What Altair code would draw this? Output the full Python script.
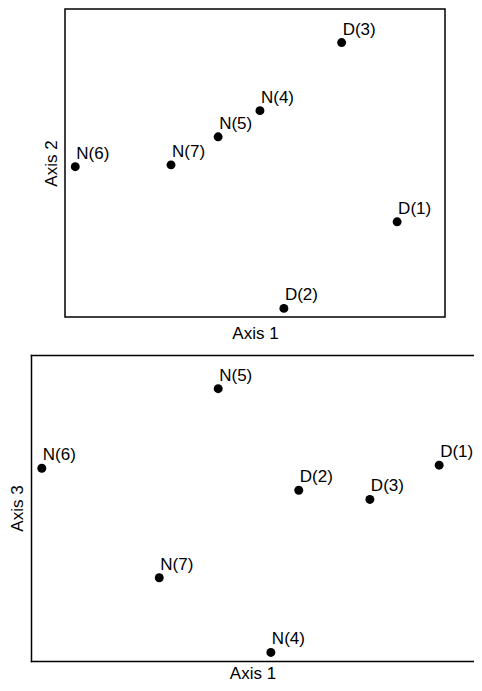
import altair as alt
import pandas as pd

# Top panel: Axis 1 vs Axis 2
top_labels = ["D(3)", "N(4)", "N(5)", "N(6)", "N(7)", "D(1)", "D(2)"]
top_axis1 = [72.8, 51.3, 40.3, 2.7, 27.9, 87.4, 57.6]
top_axis2 = [89.1, 67.0, 58.5, 48.8, 49.4, 30.9, 2.8]

# Bottom panel: Axis 1 vs Axis 3 (right part of the frame is cut off in the source)
bot_labels = ["N(5)", "N(6)", "D(1)", "D(2)", "D(3)", "N(7)", "N(4)"]
bot_axis1 = [41.6, 2.4, 90.7, 59.5, 75.3, 28.5, 53.3]
bot_axis3 = [89.0, 63.0, 64.0, 55.8, 52.8, 27.2, 2.8]

FONT = "Liberation Sans"
FS = 17
LW = 1.5

top_df = pd.DataFrame({"label": top_labels, "a1": top_axis1, "a2": top_axis2})
bot_df = pd.DataFrame({"label": bot_labels, "a1": bot_axis1, "a3": bot_axis3})


def axis(title, pad, domain=False, orient=None):
    kw = dict(labels=False, ticks=False, grid=False, domain=domain,
              domainColor="black", domainWidth=LW, domainCap="square",
              titleFont=FONT, titleFontSize=FS, titleFontWeight="normal",
              titleColor="black", titlePadding=pad, title=title)
    if orient:
        kw["orient"] = orient
    return alt.Axis(**kw)


# ---- top panel (closed frame) ----
tbase = alt.Chart(top_df).encode(
    x=alt.X("a1:Q", scale=alt.Scale(domain=[0, 100], nice=False, zero=False), axis=axis("Axis 1", 8)),
    y=alt.Y("a2:Q", scale=alt.Scale(domain=[0, 100], nice=False, zero=False), axis=axis("Axis 2", 5)),
)
top = (
    tbase.mark_circle(size=80, color="black", opacity=1)
    + tbase.mark_text(align="left", baseline="alphabetic", dx=1, dy=-8,
                      font=FONT, fontSize=FS, color="black").encode(text="label:N")
).properties(width=380, height=308, view=alt.ViewBackground(stroke="black", strokeWidth=LW))

# ---- bottom panel (frame runs off the right edge of the page) ----
xs = alt.Scale(domain=[0, 98.44], nice=False, zero=False)
ys = alt.Scale(domain=[0, 100], nice=False, zero=False)
yax = axis("Axis 3", 5, domain=True)
bpts = alt.Chart(bot_df).mark_circle(size=80, color="black", opacity=1).encode(
    x=alt.X("a1:Q", scale=xs, axis=axis("Axis 1", 4, domain=True)),
    y=alt.Y("a3:Q", scale=ys, axis=yax),
)
btxt = alt.Chart(bot_df).mark_text(align="left", baseline="alphabetic", dx=1, dy=-8,
                                   font=FONT, fontSize=FS, color="black").encode(
    x=alt.X("a1:Q", scale=xs, axis=axis("", 0, domain=True, orient="top")),
    y=alt.Y("a3:Q", scale=ys, axis=yax),
    text="label:N",
)
bottom = (bpts + btxt).resolve_axis(x="independent").properties(
    width=443, height=306, view=alt.ViewBackground(stroke=None)
)

spacer = alt.Chart(pd.DataFrame({"s": [0]})).mark_point(opacity=0).encode(
    x=alt.X("s:Q", axis=None), y=alt.Y("s:Q", axis=None)
).properties(width=10, height=10, view=alt.ViewBackground(stroke=None))

top_row = alt.hconcat(spacer, top, spacing=0)

chart = alt.vconcat(top_row, bottom, spacing=13).properties(
    padding={"left": 0, "top": 0, "right": 0, "bottom": 0}, background="white"
)

chart.save("out.html", embed_options={"renderer": "svg", "actions": False})
